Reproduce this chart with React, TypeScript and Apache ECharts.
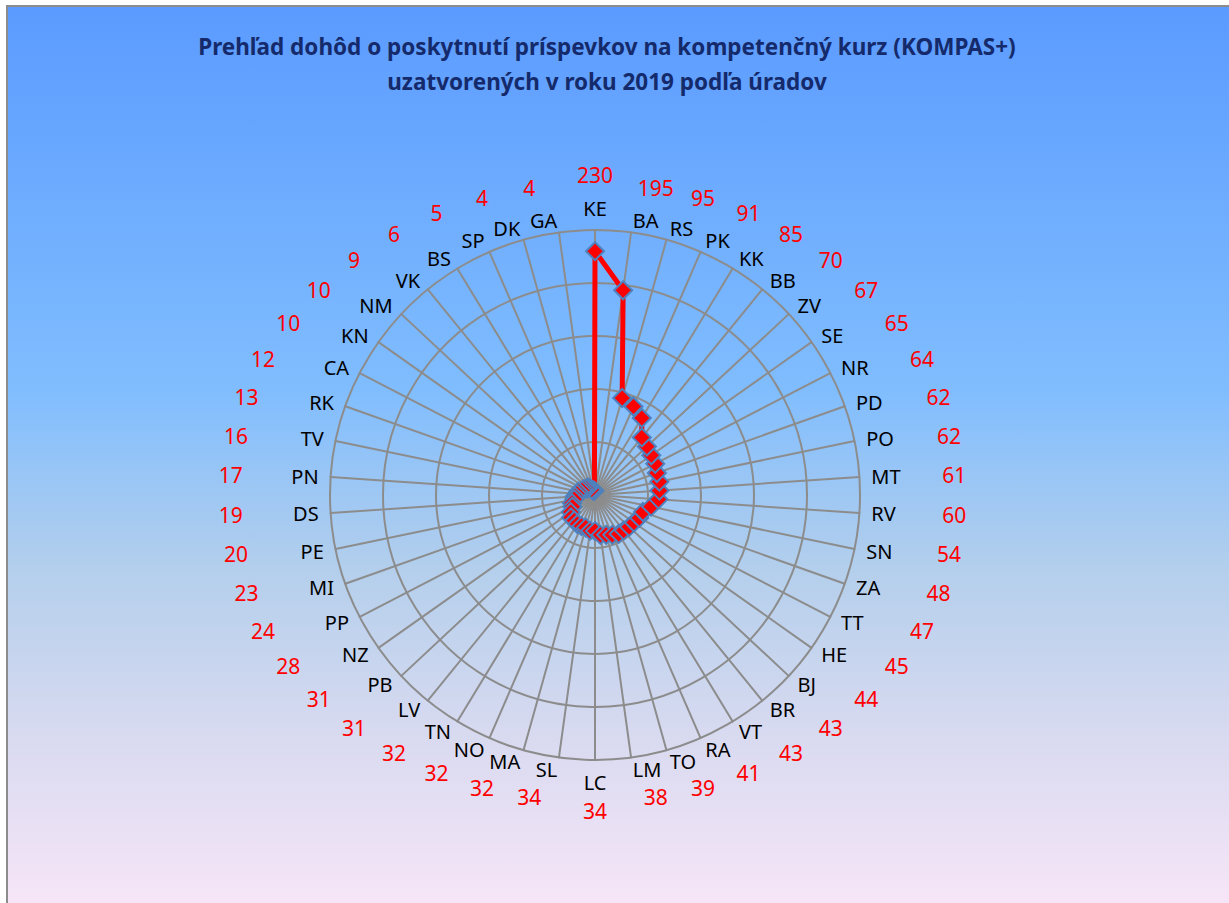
import React, { useEffect, useRef } from 'react';
import * as echarts from 'echarts';

const categories = ['KE','BA','RS','PK','KK','BB','ZV','SE','NR','PD','PO','MT','RV','SN','ZA','TT','HE','BJ','BR','VT','RA','TO','LM','LC','SL','MA','NO','TN','LV','PB','NZ','PP','MI','PE','DS','PN','TV','RK','CA','KN','NM','VK','BS','SP','DK','GA'];
const values = [230,195,95,91,85,70,67,65,64,62,62,61,60,54,48,47,45,44,43,43,41,39,38,34,34,32,32,32,31,31,28,24,23,20,19,17,16,13,12,10,10,9,6,5,4,4];
const titleLines = ['Prehľad dohôd o poskytnutí príspevkov na kompetenčný kurz (KOMPAS+)', 'uzatvorených v roku 2019 podľa úradov'];
const axisMax = 250;

const FONT = '"Noto Sans", "Open Sans", sans-serif';
const CENTER: [number, number] = [595, 495];
const RADIUS = 265;
const VALUE_FONT = 21;
const VALUE_GAP = 20;

export default function App() {
  const ref = useRef<HTMLDivElement>(null);
  useEffect(() => {
    document.body.style.margin = '0';
    if (!ref.current) return;
    const chart = echarts.init(ref.current, undefined, { renderer: 'svg' });
    const n = categories.length;
    // radar places indicators counter-clockwise; reorder so they run clockwise
    const order = [0, ...categories.slice(1).map((_, i) => n - 1 - i)];
    const indicators = order.map((i) => ({ name: categories[i], max: axisMax, min: 0 }));
    // value labels: padded so they sit further out at the sides than at top/bottom
    const rich: Record<string, any> = {};
    const r0 = RADIUS + VALUE_GAP;
    categories.forEach((c, i) => {
      const th = (i * 2 * Math.PI) / n;
      const s = Math.sin(th);
      const co = Math.cos(th);
      const as = Math.abs(s);
      const ry = 292 + (co > 0 ? 18 : 13) * co * co;
      const w = String(values[i]).length * 0.572 * VALUE_FONT;
      let pt = 0, pb = 0, pl = 0, pr = 0;
      if (as < 1e-4) {
        const v = Math.max(0, ry - r0);
        if (co > 0) pb = v; else pt = v;
      } else {
        const off = Math.min(70, 12 + 65 * as) + (s < 0 ? 5 : 0);
        const p = Math.max(0, 290 * as + off - r0 * as - w / 2);
        pl = p; pr = p;
        const dy = -(ry - r0) * co;
        if (dy < 0) pb = -2 * dy; else pt = 2 * dy;
      }
      rich['p' + i] = {
        fontSize: VALUE_FONT,
        color: '#ff0000',
        fontFamily: FONT,
        padding: [Math.round(pt), Math.round(pr), Math.round(pb), Math.round(pl)],
      };
    });
    chart.setOption({
      animation: false,
      title: {
        text: titleLines.join('\n'),
        left: 602,
        top: 24,
        textAlign: 'center',
        textStyle: { fontSize: 22.5, fontWeight: 'bold', color: '#152a6b', fontFamily: FONT, lineHeight: 35 },
      },
      radar: [
        {
          center: CENTER,
          radius: RADIUS,
          shape: 'circle',
          splitNumber: 5,
          indicator: indicators,
          nameGap: 12,
          axisName: { color: '#000', fontSize: 20, fontFamily: FONT },
          axisLine: { lineStyle: { color: '#8c8c8c', width: 2 } },
          splitLine: { lineStyle: { color: '#8c8c8c', width: 2 } },
          splitArea: { show: false },
        },
        {
          center: CENTER,
          radius: RADIUS,
          shape: 'circle',
          splitNumber: 5,
          indicator: indicators,
          nameGap: VALUE_GAP,
          axisName: {
            color: '#ff0000',
            fontSize: VALUE_FONT,
            fontFamily: FONT,
            formatter: (name: string) => {
              const i = categories.indexOf(name);
              return '{p' + i + '|' + values[i] + '}';
            },
            rich,
          },
          axisLine: { show: false },
          splitLine: { show: false },
          splitArea: { show: false },
        },
      ],
      series: [
        {
          type: 'radar',
          radarIndex: 0,
          symbol: 'diamond',
          symbolSize: 18,
          lineStyle: { color: '#ff0000', width: 5 },
          itemStyle: { color: '#ff0000', borderColor: '#4f81bd', borderWidth: 2 },
          data: [{ value: order.map((i) => values[i]), name: 'KOMPAS+' }],
        },
      ],
    });
    return () => chart.dispose();
  }, []);
  return (
    <div style={{ position: 'relative', width: 1229, height: 903, background: '#fff', overflow: 'hidden' }}>
      <div
        style={{
          position: 'absolute',
          left: 6,
          top: 5,
          width: 1240,
          height: 910,
          borderLeft: '2px solid #8c8c8c',
          borderTop: '2px solid #8c8c8c',
          background: 'linear-gradient(to bottom, #5b9bff 0%, #80bdfe 42%, #b4cfec 62%, #d8daf0 80%, #f9e6f8 100%)',
        }}
      />
      <div ref={ref} style={{ position: 'absolute', left: 0, top: 0, width: 1229, height: 903 }} />
    </div>
  );
}
